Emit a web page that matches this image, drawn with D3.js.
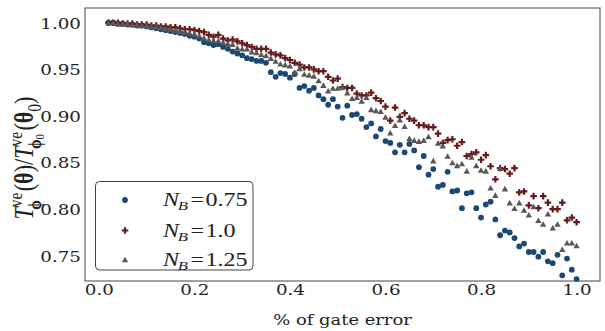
<!DOCTYPE html>
<html><head><meta charset="utf-8">
<script src="https://cdn.jsdelivr.net/npm/d3@7"></script>
<style>body{margin:0;background:#fff}svg{display:block}</style>
</head><body>
<svg id="chart" width="605" height="331"></svg>
<script>
// ---------------- data ----------------
const xValues = d3.range(2, 101).map(i => i / 100); // 0.02 ... 1.00
const seriesLabels = ["0.75", "1.0", "1.25"];
const nb075 = [1.000,1.000,0.999,0.999,0.998,0.998,0.997,0.997,0.996,0.995,
0.994,0.993,0.992,0.991,0.990,0.989,0.988,0.986,0.985,0.983,
0.979,0.978,0.976,0.977,0.974,0.972,0.969,0.967,0.965,0.962,
0.961,0.959,0.959,0.957,0.947,0.942,0.946,0.945,0.941,0.945,
0.930,0.932,0.927,0.930,0.922,0.918,0.912,0.918,0.910,0.898,
0.911,0.901,0.902,0.897,0.888,0.892,0.878,0.886,0.873,0.871,
0.861,0.869,0.861,0.870,0.863,0.845,0.857,0.837,0.843,0.824,
0.826,0.840,0.819,0.820,0.801,0.817,0.818,0.801,0.791,0.805,
0.808,0.789,0.772,0.777,0.775,0.769,0.760,0.763,0.754,0.754,
0.749,0.754,0.744,0.742,0.751,0.729,0.747,0.735,0.725];
const nb100 = [1.000,1.000,1.000,0.999,0.999,0.999,0.998,0.998,0.998,0.997,
0.997,0.996,0.996,0.995,0.995,0.994,0.993,0.993,0.992,0.991,
0.990,0.987,0.985,0.987,0.983,0.981,0.982,0.980,0.978,0.976,
0.974,0.972,0.972,0.972,0.968,0.966,0.965,0.962,0.960,0.957,
0.955,0.952,0.952,0.950,0.948,0.948,0.942,0.938,0.940,0.931,
0.930,0.930,0.924,0.922,0.922,0.925,0.919,0.916,0.910,0.895,
0.909,0.899,0.903,0.897,0.895,0.890,0.890,0.888,0.888,0.881,
0.871,0.874,0.875,0.868,0.872,0.857,0.859,0.861,0.853,0.858,
0.846,0.832,0.844,0.843,0.838,0.844,0.818,0.819,0.804,0.814,
0.801,0.814,0.807,0.800,0.800,0.807,0.788,0.791,0.786];
const nb125 = [1.000,1.000,0.999,0.999,0.999,0.998,0.998,0.997,0.997,0.996,
0.996,0.995,0.994,0.993,0.992,0.991,0.990,0.989,0.988,0.986,
0.984,0.982,0.981,0.981,0.979,0.978,0.977,0.973,0.972,0.972,
0.969,0.968,0.966,0.965,0.962,0.959,0.956,0.955,0.954,0.947,
0.951,0.945,0.944,0.943,0.938,0.933,0.927,0.930,0.930,0.931,
0.925,0.919,0.920,0.916,0.920,0.907,0.906,0.905,0.899,0.882,
0.890,0.896,0.889,0.876,0.874,0.873,0.874,0.878,0.852,0.871,
0.868,0.857,0.850,0.847,0.849,0.841,0.856,0.847,0.842,0.841,
0.823,0.815,0.844,0.822,0.807,0.801,0.807,0.799,0.794,0.803,
0.788,0.784,0.795,0.780,0.784,0.757,0.764,0.764,0.761];
const xTicks = [0.0, 0.2, 0.4, 0.6, 0.8, 1.0];
const xTickLabels = ["0.0", "0.2", "0.4", "0.6", "0.8", "1.0"];
const yTicks = [0.75, 0.80, 0.85, 0.90, 0.95, 1.00];
const yTickLabels = ["0.75", "0.80", "0.85", "0.90", "0.95", "1.00"];
const xLabel = "% of gate error";

// ---------------- layout / style ----------------
const SX = 1.22; // horizontal text stretch seen in the reference
const plot = {left: 85, right: 600, top: 8, bottom: 281};
const colors = ["#1b4976", "#661b1b", "#585858"];
const tickFont = "'DejaVu Serif', serif";
const mathFont = "'Liberation Serif', 'DejaVu Serif', serif";

const svg = d3.select("#chart");
const x = d3.scaleLinear().domain([-0.029, 1.049]).range([plot.left, plot.right]);
const y = d3.scaleLinear().domain([0.7229, 1.0158]).range([plot.bottom, plot.top]);

function plusPath(s, t) {
  return `M${-t},${-s}H${t}V${-t}H${s}V${t}H${t}V${s}H${-t}V${t}H${-s}V${-t}H${-t}Z`;
}
function triPath(w, h) {
  return `M0,${-h / 2}L${w / 2},${h / 2}L${-w / 2},${h / 2}Z`;
}
const markers = [
  g => g.append("circle").attr("r", 2.9),
  g => g.append("path").attr("d", plusPath(3.3, 1.1)),
  g => g.append("path").attr("d", triPath(6.4, 5.6))
];

// spines
svg.append("rect")
  .attr("x", plot.left).attr("y", plot.top)
  .attr("width", plot.right - plot.left).attr("height", plot.bottom - plot.top)
  .attr("fill", "none").attr("stroke", "#555").attr("stroke-width", 1.1);

// axes (labels only, no tick marks)
const xAxis = d3.axisBottom(x).tickValues(xTicks).tickFormat((d, i) => xTickLabels[i]).tickSize(0).tickPadding(0);
const gx = svg.append("g").attr("transform", `translate(0,${plot.bottom})`).call(xAxis);
gx.select(".domain").remove();
gx.selectAll("text").each(function() {
  const t = d3.select(this);
  const tx = d3.select(this.parentNode).attr("transform");
  t.attr("y", 0).attr("dy", null)
   .attr("transform", `translate(0,14) scale(${SX},1)`)
   .attr("font-family", tickFont).attr("font-size", 15).attr("fill", "#222")
   .attr("text-anchor", "middle");
});

const yAxis = d3.axisLeft(y).tickValues(yTicks).tickFormat((d, i) => yTickLabels[i]).tickSize(0).tickPadding(0);
const gy = svg.append("g").attr("transform", `translate(${plot.left},0)`).call(yAxis);
gy.select(".domain").remove();
gy.selectAll("text").each(function() {
  d3.select(this).attr("x", 0).attr("dy", null).attr("y", 0)
    .attr("transform", `translate(-4,5.4) scale(${SX},1)`)
    .attr("font-family", tickFont).attr("font-size", 15).attr("fill", "#222")
    .attr("text-anchor", "end");
});

// x label
svg.append("text")
  .attr("transform", `translate(${(plot.left + plot.right) / 2},325) scale(${SX * 0.98},1)`)
  .attr("text-anchor", "middle").attr("font-family", tickFont).attr("font-size", 15)
  .attr("fill", "#222").text(xLabel);

// y label (math-like)
(function() {
  const outer = svg.append("g");
  const inner = outer.append("g");
  const F = 17;
  let cx = 0;
  function piece(txt, o = {}) {
    const t = inner.append("text")
      .attr("x", cx + (o.dx || 0)).attr("y", o.y || 0)
      .attr("font-family", mathFont)
      .attr("font-size", o.size || F)
      .attr("font-style", o.italic ? "italic" : "normal")
      .attr("font-weight", o.bold ? "bold" : "normal")
      .attr("fill", "#222").text(txt);
    return t.node().getComputedTextLength();
  }
  function T(sub0) {
    cx += piece("T", {italic: true});
    const w1 = piece("ve", {size: F * 0.7, y: -F * 0.42});
    let w2 = piece("\u03D5", {size: F * 0.7, y: F * 0.28, bold: true, dx: -2});
    if (sub0) {
      const save = cx; cx += w2 - 2;
      w2 += piece("0", {size: F * 0.5, y: F * 0.42});
      cx = save;
    }
    cx += Math.max(w1, w2 - 2) + 1;
  }
  T(false);
  cx += piece("(");
  cx += piece("\u03B8", {bold: true});
  cx += piece(")");
  cx += piece("/");
  T(true);
  cx += piece("(");
  cx += piece("\u03B8", {bold: true});
  cx += piece("0", {size: F * 0.7, y: F * 0.28});
  cx += piece(")");
  const k = 123 / cx;
  outer.attr("transform", `translate(33,158) scale(${SX},1) rotate(-90) scale(${k}) translate(${-cx / 2},0)`);
})();

// data points
const series = [nb075, nb100, nb125];
series.forEach((vals, si) => {
  const g = svg.append("g").attr("fill", colors[si]);
  vals.forEach((v, i) => {
    const m = g.append("g").attr("transform", `translate(${x(xValues[i])},${y(v)})`);
    markers[si](m);
  });
});

// legend
const lg = svg.append("g");
lg.append("rect").attr("x", 95.5).attr("y", 181.5).attr("width", 157.5).attr("height", 88.5)
  .attr("rx", 4).attr("fill", "#fff").attr("fill-opacity", 0.85)
  .attr("stroke", "#444").attr("stroke-width", 1);
const rowY = [200, 230.5, 259.5];
let legScale = null;
seriesLabels.forEach((lab, i) => {
  const m = lg.append("g").attr("fill", colors[i]).attr("transform", `translate(125,${rowY[i]})`);
  markers[i](m);
  const t = lg.append("text").attr("font-family", mathFont).attr("font-size", 18).attr("fill", "#222");
  t.append("tspan").attr("font-style", "italic").text("N");
  t.append("tspan").attr("font-style", "italic").attr("font-size", 12.5).attr("dy", 4).attr("dx", -1).text("B");
  t.append("tspan").attr("dy", -4).attr("dx", 2).text("=");
  t.append("tspan").attr("dx", 1).text(lab);
  if (legScale === null) legScale = 82 / t.node().getComputedTextLength();
  t.attr("transform", `translate(163,${rowY[i] + 6}) scale(${legScale},1)`);
});
</script>
</body></html>
